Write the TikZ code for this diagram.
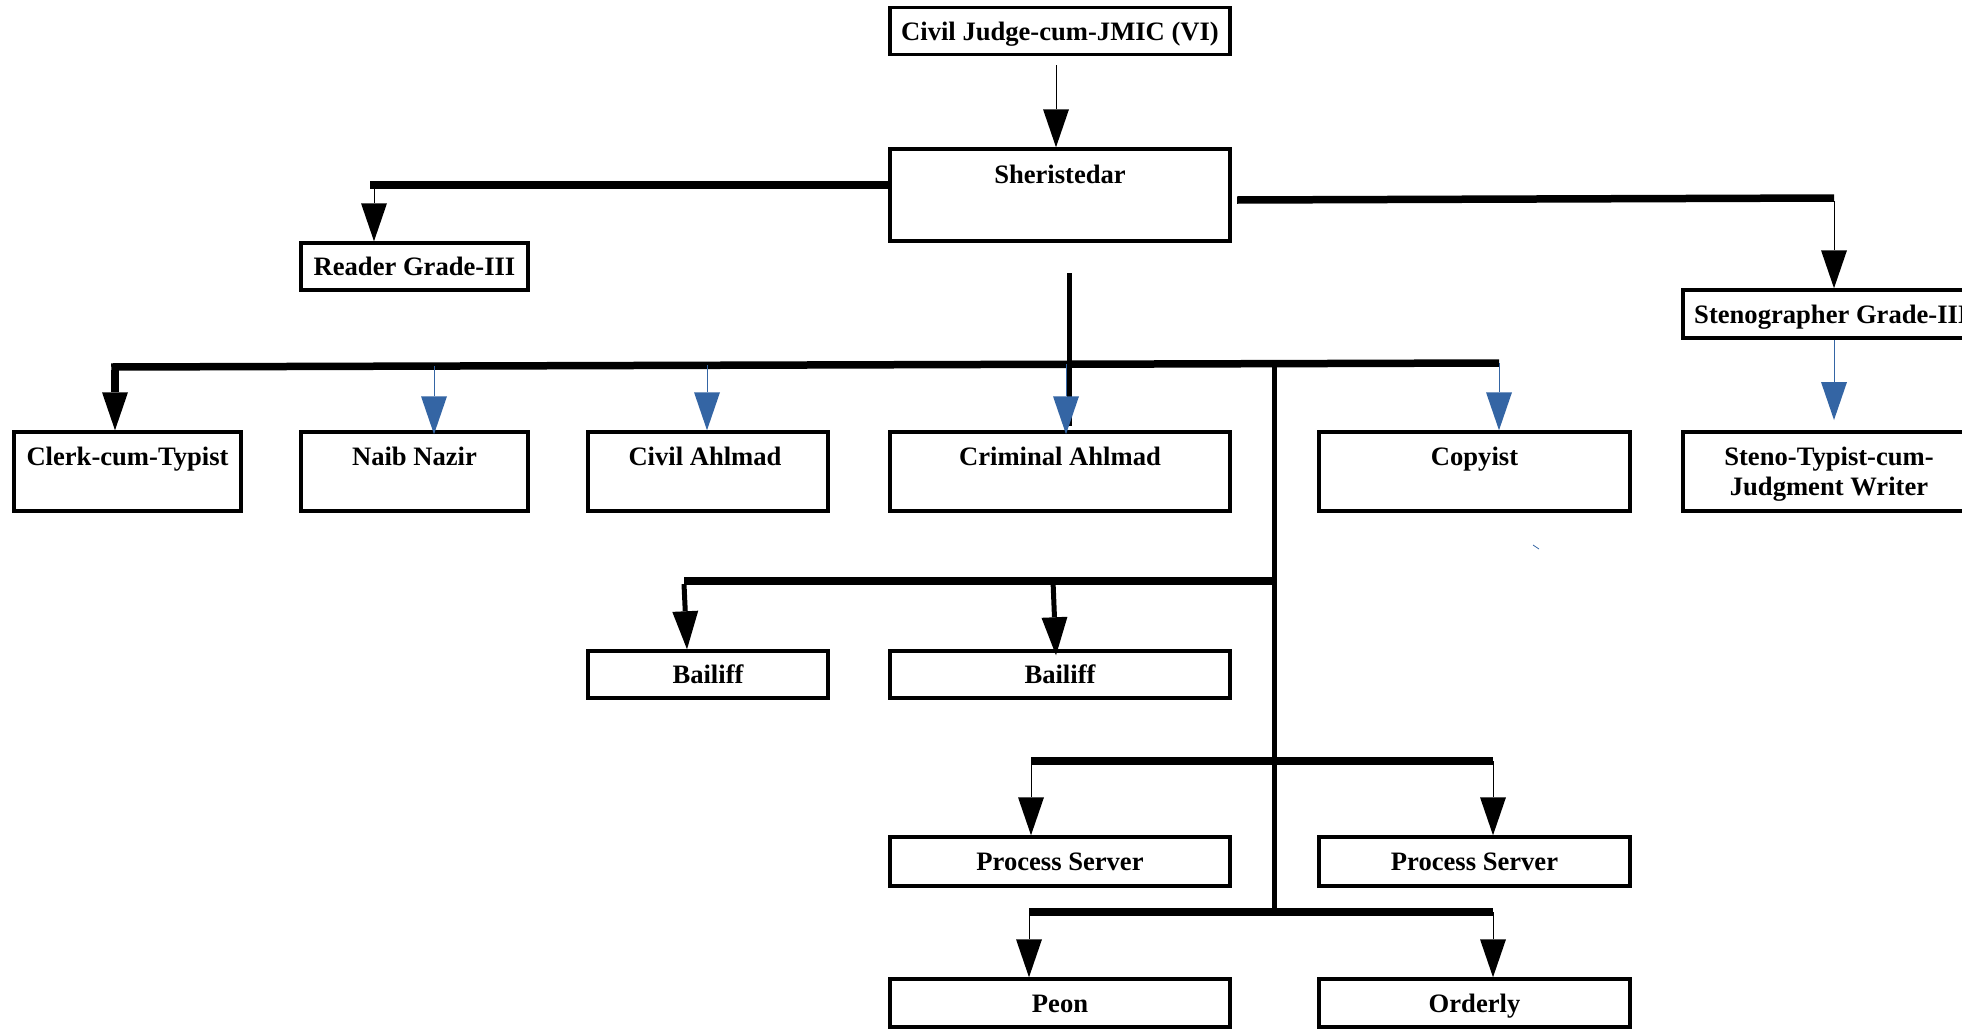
\documentclass[tikz,border=0pt]{standalone}
\usepackage{fontspec}
\setmainfont{Liberation Serif}
\usetikzlibrary{arrows.meta,calc}
\definecolor{arrblue}{RGB}{52,101,164}
\begin{document}
\begin{tikzpicture}[x=1pt,y=-1pt,
  box/.style={draw, line width=3.5pt, rectangle, inner sep=0pt},
  lbl/.style={font=\fontsize{26.6}{30}\selectfont\bfseries, inner sep=0pt, anchor=base, align=center},
  bus/.style={line width=7.5pt},
  trunk/.style={line width=5pt},
  bigtip/.style={-{Triangle[length=38pt,width=26pt,line width=0pt]}},
  thinarr/.style={bigtip, line width=1pt},
  thickarr/.style={bigtip, line width=5pt},
  busarr/.style={bigtip, line width=7.5pt},
  bluearr/.style={bigtip, line width=1pt, draw=arrblue, fill=arrblue}
]
\useasboundingbox (0,0) rectangle (1962,1028);
\fill[white] (0,0) rectangle (1962,1028);
\clip (0,0) rectangle (1962,1028);

% boxes
\node[box, minimum width=340, minimum height=47] (judge) at (1060,31) {};
\node[box, minimum width=340, minimum height=92] (sher) at (1060,195) {};
\node[box, minimum width=227, minimum height=47] (reader) at (414.5,266.5) {};
\node[box, minimum width=307, minimum height=48] (steno3) at (1836.5,314) {};
\node[box, minimum width=227, minimum height=79] (clerk) at (127.5,471.5) {};
\node[box, minimum width=227, minimum height=79] (naib) at (414.5,471.5) {};
\node[box, minimum width=240, minimum height=79] (civil) at (708,471.5) {};
\node[box, minimum width=340, minimum height=79] (crim) at (1060,471.5) {};
\node[box, minimum width=311, minimum height=79] (copy) at (1474.5,471.5) {};
\node[box, minimum width=307, minimum height=79] (stenotyp) at (1836.5,471.5) {};
\node[box, minimum width=240, minimum height=47] (bail1) at (708,674.5) {};
\node[box, minimum width=340, minimum height=47] (bail2) at (1060,674.5) {};
\node[box, minimum width=340, minimum height=49] (ps1) at (1060,861.5) {};
\node[box, minimum width=311, minimum height=49] (ps2) at (1474.5,861.5) {};
\node[box, minimum width=340, minimum height=48] (peon) at (1060,1003) {};
\node[box, minimum width=311, minimum height=48] (orderly) at (1474.5,1003) {};

% labels
\node[lbl] (judge-t) at (1060,40) {Civil Judge-cum-JMIC (VI)};
\node[lbl] (sher-t) at (1060,183) {Sheristedar};
\node[lbl] (reader-t) at (414.5,275) {Reader Grade-III};
\node[lbl, anchor=base west] (steno3-t) at (1694,323) {Stenographer Grade-III};
\node[lbl] (clerk-t) at (127.5,465) {Clerk-cum-Typist};
\node[lbl] (naib-t) at (414.5,465) {Naib Nazir};
\node[lbl] (civil-t) at (705,465) {Civil Ahlmad};
\node[lbl] (crim-t) at (1060,465) {Criminal Ahlmad};
\node[lbl] (copy-t) at (1474.5,465) {Copyist};
\node[lbl, anchor=north] (stenotyp-t) at (1829,447) {Steno-Typist-cum-\\Judgment Writer};
\node[lbl] (bail1-t) at (708,683) {Bailiff};
\node[lbl] (bail2-t) at (1060,683) {Bailiff};
\node[lbl] (ps1-t) at (1060,870) {Process Server};
\node[lbl] (ps2-t) at (1474.5,870) {Process Server};
\node[lbl] (peon-t) at (1060,1012) {Peon};
\node[lbl] (orderly-t) at (1474.5,1012) {Orderly};

% coordinates for connector bends
\coordinate (j-out) at (1056,65);
\coordinate (sl) at (890,185);
\coordinate (rd) at (374,185);
\coordinate (sr) at (1237,200);
\coordinate (st) at (1834,198);
\coordinate (drop-a) at (1069,273);
\coordinate (drop-b) at (1069,426);
\coordinate (busL) at (115,367);
\coordinate (busR) at (1499,363);
\coordinate (b-naib) at (434,366);
\coordinate (b-civil) at (707,365);
\coordinate (b-crim) at (1066,364);
\coordinate (tr-top) at (1274,362);
\coordinate (tr-bot) at (1274,911);
\coordinate (bb-L) at (684,581);
\coordinate (bb-M) at (1053,581);
\coordinate (bb-R) at (1274,581);
\coordinate (pb-L) at (1031,761);
\coordinate (pb-R) at (1493,761);
\coordinate (qb-L) at (1029,912);
\coordinate (qb-R) at (1493,912);
\coordinate (st-tip) at (1834,420);

% top
\draw[thinarr] (j-out) -- (j-out |- sher.north);
\draw[bus] (sl) -- ([xshift=-3.75pt]rd);
\draw[thinarr] (rd) -- (rd |- reader.north);
\draw[bus] (sr) -- (st);
\draw[thinarr] ([yshift=-3pt]st) -- (st |- steno3.north);
\draw[bluearr] (st |- steno3.south) -- (st-tip);

% main bus
\draw[trunk] (drop-a) -- (drop-b);
\draw[bus] ([xshift=-3.75pt]busL) -- (busR);
\draw[busarr] ([yshift=-3pt]busL) -- (busL |- clerk.north);
\draw[bluearr] (b-naib) -- ([yshift=-4pt]b-naib |- naib.north);
\draw[bluearr] (b-civil) -- (b-civil |- civil.north);
\draw[bluearr] (b-crim) -- ([yshift=-4pt]b-crim |- crim.north);
\draw[bluearr] (busR) -- (busR |- copy.north);

% trunk and lower buses
\draw[trunk] (tr-top) -- (tr-bot);
\draw[bus] (bb-L) -- (bb-R);
\draw[thickarr] ([yshift=-3pt]bb-L) -- ([xshift=3pt]bb-L |- bail1.north);
\draw[thickarr] (bb-M) -- ([xshift=3pt,yshift=-6pt]bb-M |- bail2.north);
\draw[bus] (pb-L) -- (pb-R);
\draw[thinarr] (pb-L) -- (pb-L |- ps1.north);
\draw[thinarr] (pb-R) -- (pb-R |- ps2.north);
\draw[bus] (qb-L) -- (qb-R);
\draw[thinarr] (qb-L) -- (qb-L |- peon.north);
\draw[thinarr] (qb-R) -- (qb-R |- orderly.north);

% stray mark
\draw[arrblue, line width=0.8pt] (1533,545) -- (1539,549);
\end{tikzpicture}
\end{document}
